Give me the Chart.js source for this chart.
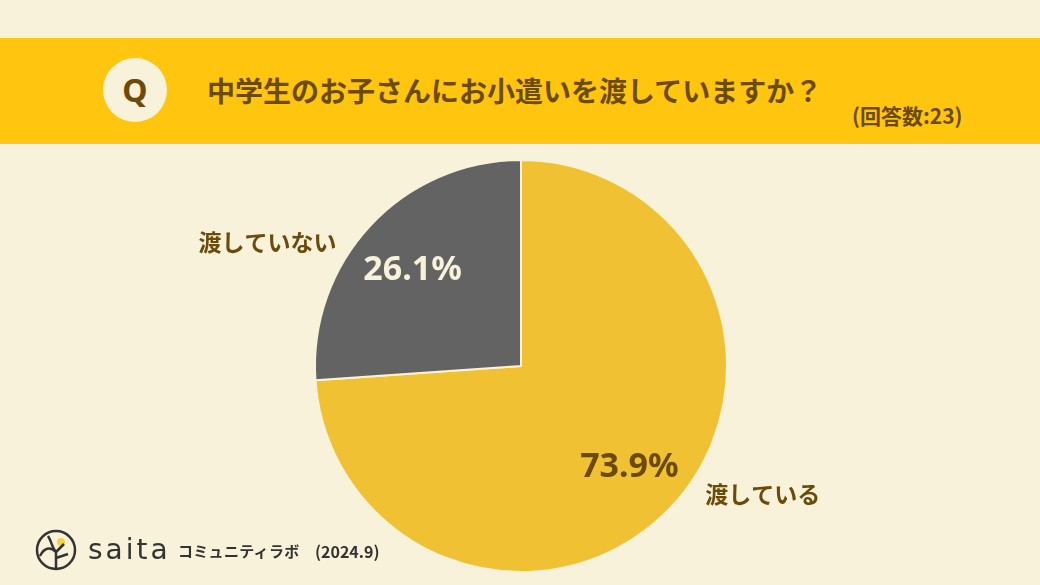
<!DOCTYPE html>
<html lang="ja">
<head>
<meta charset="utf-8">
<script src="https://cdn.jsdelivr.net/npm/chart.js@4"></script>
<style>
  html, body { margin:0; padding:0; }
  body { width:1040px; height:585px; background:#F7F2D9; position:relative; overflow:hidden;
         font-family:"Noto Sans CJK JP","Noto Sans",sans-serif; color:#6B4A0A; }
  .band { position:absolute; left:0; top:38px; width:1040px; height:106px; background:#FFC50F; }
  .q { position:absolute; left:103px; top:58px; width:64px; height:64px; border-radius:50%;
       background:#F7F2D9; font:bold 32px "Noto Sans",sans-serif; line-height:64px; text-align:center; }
  .title { position:absolute; left:207px; top:70px; font-weight:bold; font-size:28px; line-height:40px; }
  .count { position:absolute; left:852px; top:100px; font-weight:bold; font-size:21px; line-height:30px; }
  .wrap { position:absolute; left:0; top:0; width:1040px; height:585px; }
  .logo { position:absolute; left:34px; top:528px; height:44px; }
  .saita { position:absolute; left:88px; top:528px; font:28px "DejaVu Sans",sans-serif; letter-spacing:3px; color:#333; line-height:44px; }
  .lab { position:absolute; left:178px; top:538px; font-size:15px; line-height:26px; color:#333; font-weight:bold; letter-spacing:0.3px; }
  .date { position:absolute; left:315px; top:538px; font-size:16px; line-height:26px; color:#333; font-weight:bold; }
</style>
</head>
<body>
<div class="band"></div>
<div class="q">Q</div>
<div class="title">中学生のお子さんにお小遣いを渡していますか？</div>
<div class="count">(回答数:23)</div>
<div class="wrap"><canvas id="pie" width="1040" height="585"></canvas></div>
<svg class="logo" width="44" height="44" viewBox="0 0 44 44">
  <circle cx="22" cy="22" r="19" fill="none" stroke="#333" stroke-width="2.5"/>
  <circle cx="27" cy="14" r="4" fill="#F5D43A"/>
  <path d="M22 41 L22 24 M22 24 C16 18 10 20 6 28 M22 24 L30 16 M14 8 C18 14 18 20 22 24 M22 30 L34 26" fill="none" stroke="#333" stroke-width="2.5"/>
</svg>
<div class="saita">saita</div>
<div class="lab">コミュニティラボ</div>
<div class="date">(2024.9)</div>
<script>
var labels = ['渡している', '渡していない'];
var values = [73.9, 26.1];
var colors = ['#F0C233', '#636363'];
var pctColors = ['#6B4A0A', '#F7F2D9'];
// outside label placement (angle shift in degrees, distance as share of radius)
var labelShift = [-15, -17];
var labelDist = [1.33, 1.37];

var sliceLabels = {
    id: 'sliceLabels',
    afterDatasetsDraw: function(chart) {
        var ctx = chart.ctx;
        var arcs = chart.getDatasetMeta(0).data;
        ctx.save();
        ctx.textAlign = 'center';
        ctx.textBaseline = 'middle';
        arcs.forEach(function(arc, i) {
            var mid = (arc.startAngle + arc.endAngle) / 2;
            var r = arc.outerRadius;
            // percentage inside the slice
            ctx.fillStyle = pctColors[i];
            ctx.font = 'bold 34px "Noto Sans", sans-serif';
            ctx.fillText(values[i].toFixed(1) + '%', arc.x + Math.cos(mid) * r * 0.72, arc.y + 3 + Math.sin(mid) * r * 0.70);
            // category name outside
            var a = mid + labelShift[i] * Math.PI / 180;
            ctx.fillStyle = '#6B4A0A';
            ctx.font = 'bold 23px "Noto Sans CJK JP", sans-serif';
            ctx.fillText(labels[i], arc.x + Math.cos(a) * r * labelDist[i], arc.y + Math.sin(a) * r * labelDist[i]);
        });
        ctx.restore();
    }
};

var pie = new Chart(document.getElementById('pie').getContext('2d'), {
    type: 'pie',
    data: {
        labels: labels,
        datasets: [{
            data: values,
            backgroundColor: colors,
            borderColor: '#F7F2D9',
            borderWidth: 2
        }]
    },
    options: {
        responsive: false,
        animation: false,
        layout: { padding: { left: 314, right: 312, top: 159, bottom: 12 } },
        plugins: { legend: { display: false }, tooltip: { enabled: false } }
    },
    plugins: [sliceLabels]
});
</script>
</body>
</html>
